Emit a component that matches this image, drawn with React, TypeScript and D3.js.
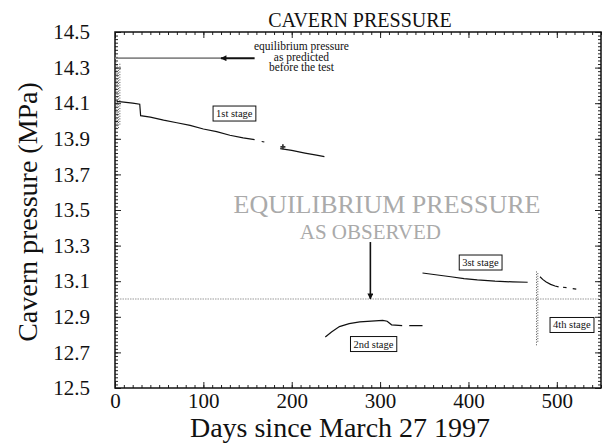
import React, { useEffect, useRef } from 'react'
import * as d3 from 'd3'

// 1st stage (NaN = gap in the record)
const stage1Days = [2, 10, 20, 28, 29, 40, 55, 70, 85, 100, 115, 130, 145, 158, 162, 166, 169, 178, 187, 200, 215, 228, 237]
const stage1Pressure = [14.11, 14.106, 14.1, 14.094, 14.03, 14.022, 14.005, 13.99, 13.975, 13.955, 13.94, 13.92, 13.905, 13.895, NaN, 13.885, 13.882, NaN, 13.845, 13.835, 13.82, 13.808, 13.8]

const stage2Days = [238, 245, 254, 265, 277, 290, 303, 308, 313, 325, 328, 333, 348]
const stage2Pressure = [12.787, 12.815, 12.845, 12.862, 12.872, 12.876, 12.88, 12.875, 12.855, 12.85, NaN, 12.85, 12.85]

const stage3Days = [348, 365, 380, 395, 410, 430, 450, 467]
const stage3Pressure = [13.146, 13.135, 13.125, 13.115, 13.107, 13.1, 13.096, 13.094]

const stage4Days = [481, 484, 488, 493, 498, 502, 504, 507, 511, 514, 518, 522]
const stage4Pressure = [13.125, 13.11, 13.095, 13.082, 13.073, 13.068, NaN, 13.066, 13.064, NaN, 13.058, 13.056]

// scattered readings at the start of stage 1 and stage 4
const noiseDays = [1, 2.5, 4, 5.5]
const noiseLow = [13.96, 13.97, 13.96, 13.98]
const noiseHigh = [14.33, 14.32, 14.3, 14.33]
const stage4NoiseDays = [477, 478.5]
const stage4NoiseLow = [12.74, 12.76]
const stage4NoiseHigh = [13.16, 13.15]

const predictedPressure = 14.353
const observedPressure = 13.0

const xTicks = [0, 100, 200, 300, 400, 500]
const yTicks = [12.5, 12.7, 12.9, 13.1, 13.3, 13.5, 13.7, 13.9, 14.1, 14.3, 14.5]

const stageLabels = ['1st stage', '2nd stage', '3st stage', '4th stage']
const stageLabelDays = [135, 292.5, 413.6, 517]
const stageLabelPressure = [14.042, 12.747, 13.205, 12.854]

const W = 603
const H = 446
const serif = "'Liberation Serif', 'Times New Roman', serif"

export default function App() {
  const ref = useRef<SVGSVGElement>(null)

  useEffect(() => {
    const svg = d3.select(ref.current)
    svg.selectAll('*').remove()

    const left = 115, top = 32, right = 601, bottom = 388

    const x = d3.scaleLinear().domain([0, 550]).range([left, right])
    const y = d3.scaleLinear().domain([12.5, 14.5]).range([bottom, top])

    const defs = svg.append('defs')
    defs.append('marker')
      .attr('id', 'head')
      .attr('viewBox', '0 0 10 10')
      .attr('refX', 9).attr('refY', 5)
      .attr('markerWidth', 8).attr('markerHeight', 6)
      .attr('markerUnits', 'userSpaceOnUse')
      .attr('orient', 'auto')
      .append('path').attr('d', 'M0,0 L10,5 L0,10 Z').attr('fill', '#111')

    // minor ticks on all four sides
    const minorX = d3.range(0, 551, 10)
    const minorY = d3.range(0, 101).map(i => 12.5 + i * 0.02)
    const addAxis = (axis: any, tr: string) => {
      const g = svg.append('g').attr('transform', tr).call(axis)
      g.select('.domain').remove()
      g.selectAll('line').attr('stroke', '#222')
      g.attr('font-family', serif).attr('font-size', 21)
      g.selectAll('text').attr('fill', '#111')
        .style('font-family', serif).style('font-size', '21px')
      return g
    }
    addAxis(d3.axisBottom(x).tickValues(minorX).tickSize(-3).tickFormat(() => ''), `translate(0,${bottom})`)
    addAxis(d3.axisTop(x).tickValues(minorX).tickSize(-3).tickFormat(() => ''), `translate(0,${top})`)
    addAxis(d3.axisLeft(y).tickValues(minorY).tickSize(-3).tickFormat(() => ''), `translate(${left},0)`)
    addAxis(d3.axisRight(y).tickValues(minorY).tickSize(-3).tickFormat(() => ''), `translate(${right},0)`)

    addAxis(d3.axisBottom(x).tickValues(xTicks).tickSizeInner(-6).tickSizeOuter(0).tickPadding(5).tickFormat(d3.format('d')), `translate(0,${bottom})`)
    addAxis(d3.axisTop(x).tickValues(xTicks).tickSizeInner(-6).tickSizeOuter(0).tickFormat(() => ''), `translate(0,${top})`)
    addAxis(d3.axisLeft(y).tickValues(yTicks).tickSizeInner(-6).tickSizeOuter(0).tickPadding(25).tickFormat(d3.format('.1f')), `translate(${left},0)`)
    addAxis(d3.axisRight(y).tickValues(yTicks).tickSizeInner(-6).tickSizeOuter(0).tickFormat(() => ''), `translate(${right},0)`)

    svg.append('rect')
      .attr('x', left).attr('y', top)
      .attr('width', right - left).attr('height', bottom - top)
      .attr('fill', 'none').attr('stroke', '#111').attr('stroke-width', 1.5)

    // observed equilibrium line
    svg.append('line')
      .attr('x1', x(0)).attr('x2', x(550))
      .attr('y1', y(observedPressure)).attr('y2', y(observedPressure))
      .attr('stroke', '#999').attr('stroke-width', 1.2).attr('stroke-dasharray', '1.5,1')

    // predicted equilibrium line + arrow
    svg.append('line')
      .attr('x1', x(0)).attr('x2', x(121))
      .attr('y1', y(predictedPressure)).attr('y2', y(predictedPressure))
      .attr('stroke', '#888').attr('stroke-width', 1.6)
    svg.append('line')
      .attr('x1', x(158)).attr('x2', x(120))
      .attr('y1', y(predictedPressure)).attr('y2', y(predictedPressure))
      .attr('stroke', '#111').attr('stroke-width', 2)
      .attr('marker-end', 'url(#head)')

    const ann = svg.append('text')
      .attr('font-family', serif).attr('font-size', 11.5)
      .attr('text-anchor', 'middle').attr('fill', '#111')
    ;['equilibrium pressure', 'as predicted', 'before the test'].forEach((t, i) => {
      ann.append('tspan').attr('x', x(211)).attr('y', 50 + i * 10.5).text(t)
    })

    // scatter bands
    const drawBand = (days: number[], lo: number[], hi: number[]) => {
      svg.append('g').selectAll('line').data(days).enter().append('line')
        .attr('x1', d => x(d)).attr('x2', d => x(d))
        .attr('y1', (d, i) => y(lo[i])).attr('y2', (d, i) => y(hi[i]))
        .attr('stroke', '#555').attr('stroke-width', 1)
        .attr('stroke-dasharray', '1,1.6')
    }
    drawBand(noiseDays, noiseLow, noiseHigh)
    drawBand(stage4NoiseDays, stage4NoiseLow, stage4NoiseHigh)

    const line = d3.line<[number, number]>()
      .defined(d => !isNaN(d[1]))
      .x(d => x(d[0])).y(d => y(d[1]))

    const series: [number[], number[]][] = [
      [stage1Days, stage1Pressure],
      [stage2Days, stage2Pressure],
      [stage3Days, stage3Pressure],
      [stage4Days, stage4Pressure],
    ]
    series.forEach(([days, vals]) => {
      svg.append('path')
        .datum(days.map((d, i) => [d, vals[i]] as [number, number]))
        .attr('d', line)
        .attr('fill', 'none').attr('stroke', '#111').attr('stroke-width', 1.2)
    })
    svg.append('path')
      .attr('d', d3.symbol(d3.symbolCross, 14)())
      .attr('transform', `translate(${x(190)},${y(13.855)})`)
      .attr('fill', '#333')

    // stage labels
    stageLabels.forEach((t, i) => {
      const cx = x(stageLabelDays[i]), cy = y(stageLabelPressure[i])
      const g = svg.append('g')
      const txt = g.append('text')
        .attr('x', cx).attr('y', cy + 3.5)
        .attr('text-anchor', 'middle')
        .attr('font-family', serif).attr('font-size', 10.5)
        .attr('fill', '#111').text(t)
      const bb = (txt.node() as SVGTextElement).getBBox()
      g.insert('rect', 'text')
        .attr('x', bb.x - 3).attr('y', cy - 7.5)
        .attr('width', bb.width + 6).attr('height', 15)
        .attr('fill', '#fff').attr('stroke', '#111').attr('stroke-width', 1)
    })

    // observed annotation
    svg.append('text')
      .attr('x', 387).attr('y', 213)
      .attr('text-anchor', 'middle')
      .attr('font-family', serif).attr('font-size', 26)
      .attr('fill', '#aaa').text('EQUILIBRIUM PRESSURE')
    svg.append('text')
      .attr('x', x(289)).attr('y', 239)
      .attr('text-anchor', 'middle')
      .attr('font-family', serif).attr('font-size', 21)
      .attr('fill', '#aaa').text('AS OBSERVED')
    svg.append('line')
      .attr('x1', x(289)).attr('x2', x(289))
      .attr('y1', y(13.32)).attr('y2', y(observedPressure))
      .attr('stroke', '#111').attr('stroke-width', 1.6)
      .attr('marker-end', 'url(#head)')

    // titles
    svg.append('text')
      .attr('x', 360).attr('y', 27)
      .attr('text-anchor', 'middle')
      .attr('font-family', serif).attr('font-size', 20)
      .attr('fill', '#111').text('CAVERN PRESSURE')
    svg.append('text')
      .attr('x', 340).attr('y', 437)
      .attr('text-anchor', 'middle')
      .attr('font-family', serif).attr('font-size', 28)
      .attr('fill', '#111').text('Days since March 27 1997')
    svg.append('text')
      .attr('transform', `translate(37,212) rotate(-90)`)
      .attr('text-anchor', 'middle')
      .attr('font-family', serif).attr('font-size', 28)
      .attr('fill', '#111').text('Cavern pressure (MPa)')
  }, [])

  return (
    <svg ref={ref} width={W} height={H}
      style={{ position: 'absolute', left: 0, top: 0, background: '#fff' }} />
  )
}
